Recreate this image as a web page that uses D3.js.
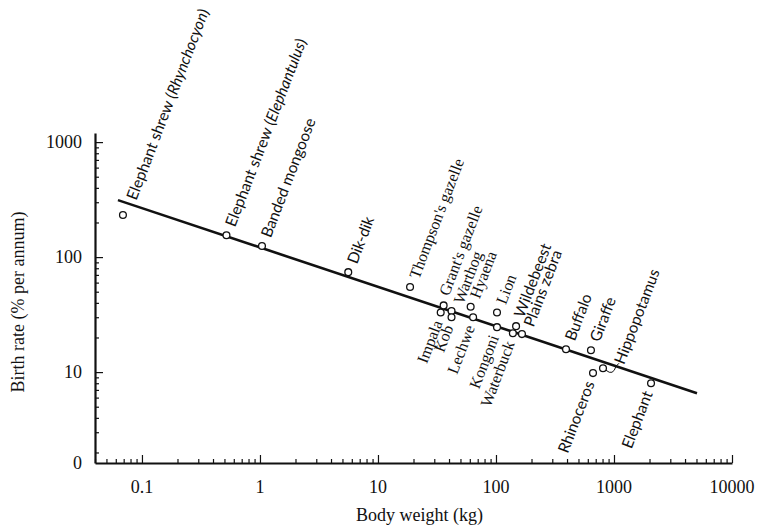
<!DOCTYPE html>
<html>
<head>
<meta charset="utf-8">
<script src="https://cdn.jsdelivr.net/npm/d3@7"></script>
<style>
  body { margin: 0; background: #fff; }
  svg { display: block; }
  .tick-label, .axis-title { font-family: "Liberation Serif", "Times New Roman", serif; font-size: 18px; fill: #111; }
  .species { font-size: 16px; fill: #111; }
  .species.serif { font-family: "Liberation Serif", serif; }
  .species.sans { font-family: Lato, sans-serif; font-size: 15.5px; }
  .domain, .tick line { stroke: #111; }
</style>
</head>
<body>
<svg width="766" height="531"></svg>
<script>
const species = [
  "Elephant shrew (Rhynchocyon)", "Elephant shrew (Elephantulus)", "Banded mongoose", "Dik-dik",
  "Thompson's gazelle", "Grant's gazelle", "Impala", "Warthog", "Kob", "Hyaena", "Lechwe",
  "Lion", "Kongoni", "Wildebeest", "Waterbuck", "Plains zebra", "Buffalo", "Giraffe",
  "Rhinoceros", "Hippopotamus", "Elephant"
];
const bodyWeight = [0.069, 0.52, 1.04, 5.6, 18.7, 36, 34, 42, 42, 61, 64, 102, 102, 148, 139, 166, 392, 638, 664, 807, 2060];
const birthRate  = [232, 155, 125, 74, 55, 38, 33, 34, 30, 37, 30, 33, 24.6, 25.1, 21.8, 21.4, 15.8, 15.5, 9.8, 10.8, 8.0];

// fitted line, end points
const fitWeight = [0.0626, 5050];
const fitRate   = [313, 6.56];

const xTickValues = [0.1, 1, 10, 100, 1000, 10000];
const xTickLabels = ["0.1", "1", "10", "100", "1000", "10000"];
const yTickValues = [1.62, 10, 100, 1000];
const yTickLabels = ["0", "10", "100", "1000"];

const xTitle = "Body weight (kg)";
const yTitle = "Birth rate (% per annum)";

// label placement
const labelsBelow = ["Impala", "Kob", "Lechwe", "Kongoni", "Waterbuck", "Rhinoceros", "Elephant"];
const serifLabels = ["Thompson's gazelle", "Grant's gazelle", "Impala", "Warthog", "Kob", "Hyaena",
                     "Lechwe", "Lion", "Kongoni", "Waterbuck"];
// sideways nudge across the text direction, px
const nudge = { "Grant's gazelle": -4, "Warthog": 3, "Wildebeest": -1, "Plains zebra": 3, "Elephant shrew (Rhynchocyon)": 2 };
// extra distance along the text direction, px
const push = { "Elephant shrew (Rhynchocyon)": 8 };

const svg = d3.select("svg");

const x = d3.scaleLog().domain([0.04, 10000]).range([95, 732]);
const y = d3.scaleLog().domain([1.62, 1200]).range([463, 133]);

const isMajor = (v) => Math.abs(Math.log10(v) - Math.round(Math.log10(v))) < 1e-9;

// x axis
const xAxis = svg.append("g")
  .attr("transform", `translate(0,${y.range()[0]})`)
  .call(d3.axisTop(x).tickValues(x.ticks()).tickSize(4).tickSizeOuter(0).tickFormat(""));
xAxis.selectAll(".tick line").attr("y2", d => isMajor(d) ? -8 : -4).attr("stroke-width", 1.2);
xAxis.select(".domain").attr("stroke-width", 2.2);

xAxis.selectAll("text.tick-label")
  .data(xTickValues)
  .enter().append("text")
    .attr("class", "tick-label")
    .attr("x", d => x(d))
    .attr("y", 30)
    .attr("text-anchor", "middle")
    .text((d, i) => xTickLabels[i]);

// y axis
const yAxis = svg.append("g")
  .attr("transform", `translate(${x.range()[0]},0)`)
  .call(d3.axisRight(y).tickValues(y.ticks()).tickSize(4).tickSizeOuter(0).tickFormat(""));
yAxis.selectAll(".tick line").attr("x2", d => isMajor(d) ? 8 : 4).attr("stroke-width", 1.2);
yAxis.select(".domain").attr("stroke-width", 2.2);

yAxis.selectAll("text.tick-label")
  .data(yTickValues)
  .enter().append("text")
    .attr("class", "tick-label")
    .attr("x", -13)
    .attr("y", d => y(d))
    .attr("dy", "0.35em")
    .attr("text-anchor", "end")
    .text((d, i) => yTickLabels[i]);

svg.append("text")
  .attr("class", "axis-title")
  .attr("x", (x.range()[0] + x.range()[1]) / 2 + 6)
  .attr("y", 521)
  .attr("text-anchor", "middle")
  .text(xTitle);

svg.append("text")
  .attr("class", "axis-title")
  .attr("transform", `translate(24,${(y.range()[0] + y.range()[1]) / 2 + 4}) rotate(-90)`)
  .attr("text-anchor", "middle")
  .text(yTitle);

// regression line
const line = d3.line()
  .x(d => x(d[0]))
  .y(d => y(d[1]));

svg.append("path")
  .datum(fitWeight.map((w, i) => [w, fitRate[i]]))
  .attr("d", line)
  .attr("fill", "none")
  .attr("stroke", "#111")
  .attr("stroke-width", 2.6);

// points
const data = species.map((name, i) => ({ name, w: bodyWeight[i], r: birthRate[i] }));

svg.append("g")
  .selectAll("circle")
  .data(data)
  .enter().append("circle")
    .attr("cx", d => x(d.w))
    .attr("cy", d => y(d.r))
    .attr("r", 3.4)
    .attr("fill", "#fff")
    .attr("stroke", "#111")
    .attr("stroke-width", 1.3);

// labels
const angle = -69;
const gapAbove = 10;
const gapBelow = 9;

const label = svg.append("g")
  .selectAll("g")
  .data(data)
  .enter().append("g")
    .attr("transform", d => d.name === "Hippopotamus"
      ? `translate(${x(d.w) + 16},${y(d.r) - 5}) rotate(${angle})`
      : `translate(${x(d.w)},${y(d.r)}) rotate(${angle})`);

const text = label.append("text")
  .attr("class", d => "species " + (serifLabels.includes(d.name) ? "serif" : "sans"))
  .attr("x", d => d.name === "Hippopotamus" ? 0
    : labelsBelow.includes(d.name) ? -gapBelow : gapAbove + (push[d.name] || 0))
  .attr("y", d => nudge[d.name] || 0)
  .attr("dy", "0.35em")
  .attr("text-anchor", d => labelsBelow.includes(d.name) ? "end" : "start");

text.each(function (d) {
  const m = d.name.match(/^(.*\()(.+)(\))$/);
  const t = d3.select(this);
  if (!m) { t.text(d.name); return; }
  t.append("tspan").text(m[1]);
  t.append("tspan").attr("font-style", "italic").text(m[2]);
  t.append("tspan").text(m[3]);
});

// leader for hippopotamus
const hippo = data.find(d => d.name === "Hippopotamus");
const hx = x(hippo.w), hy = y(hippo.r);
svg.append("path")
  .attr("d", `M${hx + 3},${hy + 2} Q${hx + 10},${hy + 8} ${hx + 13},${hy - 2} L${hx + 16},${hy - 5}`)
  .attr("fill", "none")
  .attr("stroke", "#111")
  .attr("stroke-width", 1);
</script>
</body>
</html>
